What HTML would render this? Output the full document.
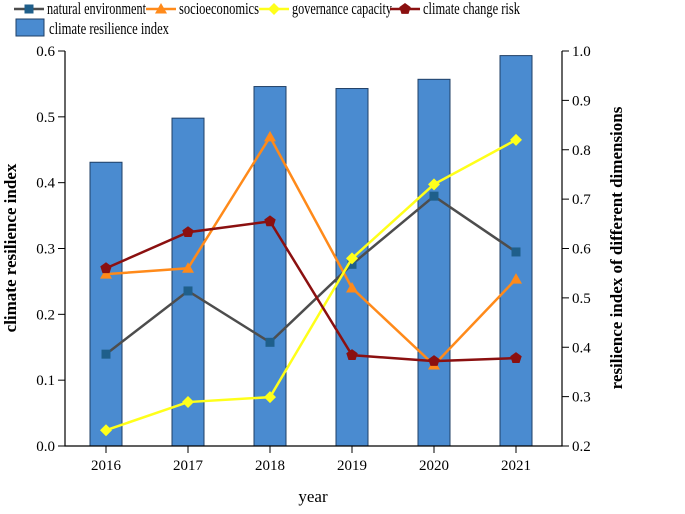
<!DOCTYPE html>
<html><head><meta charset="utf-8"><style>
body{margin:0;background:#fff}
svg text{font-family:"Liberation Serif",serif;fill:#000}
</style></head><body>
<svg id="c" width="685" height="509" xmlns="http://www.w3.org/2000/svg">
<g id="legend"></g>
<g id="plot"></g>
</svg>
<script>
const years=["2016","2017","2018","2019","2020","2021"];
const cri=[0.431,0.498,0.546,0.543,0.557,0.593];
const natural=[0.386,0.514,0.41,0.568,0.706,0.593];
const socio=[0.548,0.56,0.826,0.52,0.364,0.538];
const gov=[0.232,0.289,0.299,0.58,0.73,0.82];
const climate=[0.56,0.633,0.655,0.384,0.372,0.378];
const leftTicks=["0.0","0.1","0.2","0.3","0.4","0.5","0.6"];
const rightTicks=["0.2","0.3","0.4","0.5","0.6","0.7","0.8","0.9","1.0"];

const NS="http://www.w3.org/2000/svg";
const X0=65,X1=562,Y0=446,Y1=51;
const xs=i=>106+i*82;
const yl=v=>Y0-(v/0.6)*(Y0-Y1);
const yr=v=>Y0-((v-0.2)/0.8)*(Y0-Y1);
const plot=document.getElementById('plot');
const leg=document.getElementById('legend');
function el(t,a,p){const e=document.createElementNS(NS,t);for(const k in a)e.setAttribute(k,a[k]);(p||plot).appendChild(e);return e;}

cri.forEach((v,i)=>{
 const r=el('rect',{x:xs(i)-16,y:yl(v),width:32,height:Y0-yl(v),fill:'#4a8bd0',stroke:'#1f3f66','stroke-width':1});
 
 
});
const ax=el('path',{d:`M${X0},${Y1}V${Y0}H${X1}V${Y1}`,fill:'none',stroke:'#000','stroke-width':1.2});


leftTicks.forEach(t=>{const y=yl(+t);
 el('line',{x1:X0-7,x2:X0,y1:y,y2:y,stroke:'#000'});
 const tx=el('text',{x:X0-10,y:y+5,'text-anchor':'end','font-size':15});tx.textContent=t;
 
 
});
rightTicks.forEach(t=>{const y=yr(+t);
 el('line',{x1:X1,x2:X1+7,y1:y,y2:y,stroke:'#000'});
 const tx=el('text',{x:X1+10,y:y+5,'font-size':15});tx.textContent=t;
 
 
});
years.forEach((t,i)=>{
 el('line',{x1:xs(i),x2:xs(i),y1:Y0,y2:Y0+7,stroke:'#000'});
 const tx=el('text',{x:xs(i),y:Y0+24,'text-anchor':'middle','font-size':15});tx.textContent=t;
 
 
});
let t;
t=el('text',{x:313,y:502,'text-anchor':'middle','font-size':17});t.textContent='year';

t=el('text',{x:0,y:0,'text-anchor':'middle','font-size':17,'font-weight':'bold',transform:'translate(16,248) rotate(-90)'});t.textContent='climate resilience index';

t=el('text',{x:0,y:0,'text-anchor':'middle','font-size':17,'font-weight':'bold',transform:'translate(622,248) rotate(-90)'});t.textContent='resilience index of different dimensions';


function marker(shape,x,y,c,g){
 if(shape==='sq')return el('rect',{x:x-4.5,y:y-4.5,width:9,height:9,fill:c},g);
 if(shape==='tri')return el('polygon',{points:`${x},${y-6} ${x+6},${y+4.5} ${x-6},${y+4.5}`,fill:c},g);
 if(shape==='dia')return el('polygon',{points:`${x},${y-6} ${x+6},${y} ${x},${y+6} ${x-6},${y}`,fill:c},g);
 let p=[];for(let k=0;k<5;k++){const a=-Math.PI/2+k*2*Math.PI/5;p.push((x+6*Math.cos(a))+','+(y+6*Math.sin(a)));}
 return el('polygon',{points:p.join(' '),fill:c},g);
}
const series=[[natural,'#4d4d4d','#1f5f8b','sq','natural environment'],[socio,'#ff8a1a','#ff8a1a','tri','socioeconomics'],[gov,'#ffff1a','#ffff1a','dia','governance capacity'],[climate,'#8b1010','#8b1010','pent','climate change risk']];
series.forEach(s=>{
 const g=el('g',{});
 
 
 el('polyline',{points:s[0].map((v,i)=>xs(i)+','+yr(v)).join(' '),fill:'none',stroke:s[1],'stroke-width':2.5},g);
 s[0].forEach((v,i)=>{const m=marker(s[3],xs(i),yr(v),s[2],g);});
});
const lx=[14,146,259,390];
const lw=[99,80,100,97];
series.forEach((s,i)=>{
 const g=el('g',{},leg);
 
 
 el('line',{x1:lx[i],x2:lx[i]+30,y1:9,y2:9,stroke:s[1],'stroke-width':2.5},g);
 marker(s[3],lx[i]+15,9,s[2],g);
 const tx=el('text',{x:lx[i]+33,y:14,'font-size':17,textLength:lw[i],lengthAdjust:'spacingAndGlyphs'},g);tx.textContent=s[4];
});
const g=el('g',{},leg);


el('rect',{x:16,y:19,width:28,height:17,fill:'#4a8bd0',stroke:'#1f3f66'},g);
const tx=el('text',{x:49,y:34,'font-size':17,textLength:120,lengthAdjust:'spacingAndGlyphs'},g);tx.textContent='climate resilience index';
</script>
</body></html>
